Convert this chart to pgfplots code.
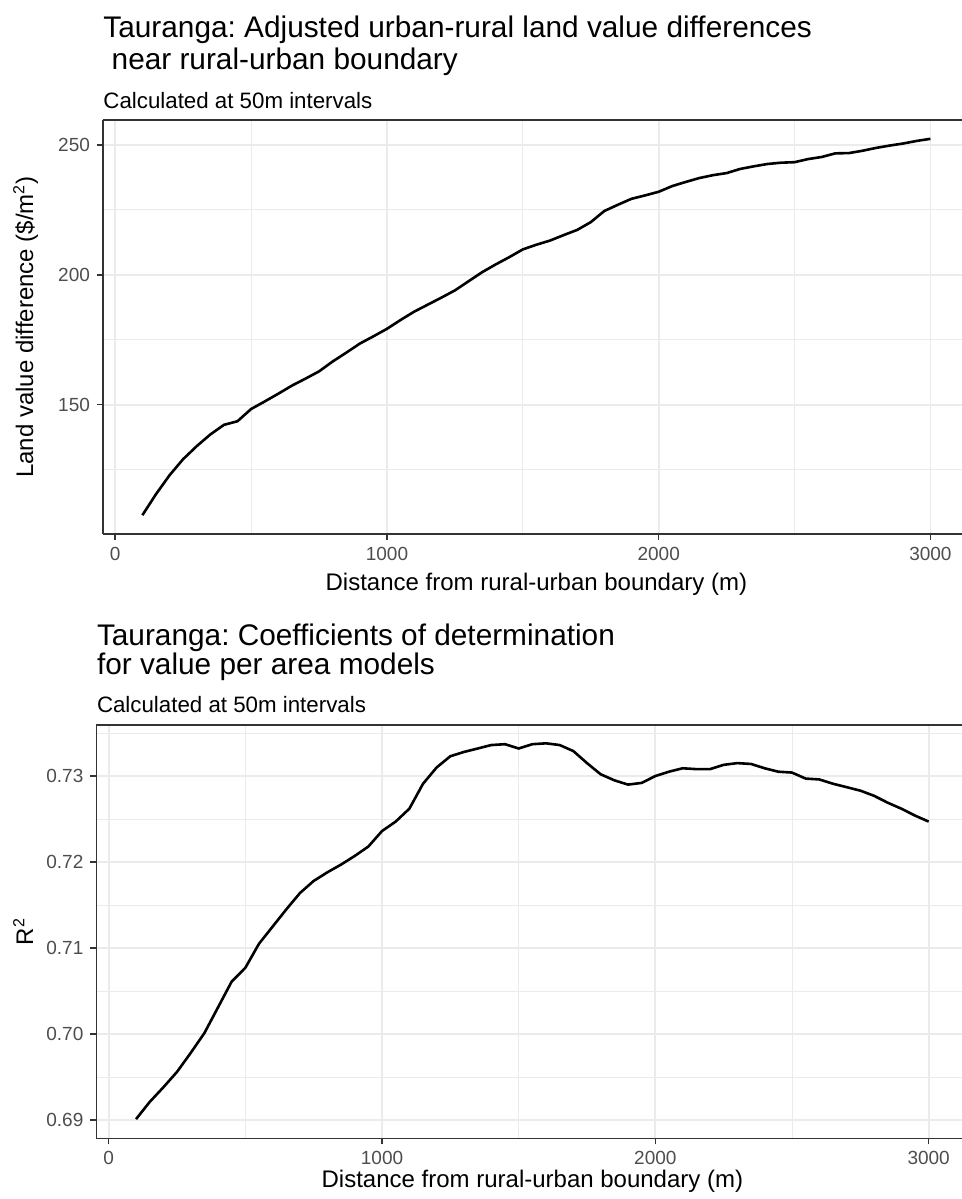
\documentclass[border=0pt]{standalone}
\usepackage{fontspec}
\setmainfont{Liberation Sans}
\usepackage{pgfplots}
\usepackage{pgfplotstable}
\pgfplotsset{compat=1.18}
\frenchspacing

\definecolor{gridgrey}{HTML}{EBEBEB}
\definecolor{grey20}{HTML}{333333}
\definecolor{grey30}{HTML}{4D4D4D}

% land value difference ($/m2) by distance (m)
\pgfplotstableread{
dist diff
100 107.4
150 115.5
200 122.8
250 129.0
300 134.0
350 138.5
400 142.2
450 143.6
500 148.3
550 151.2
600 154.2
650 157.3
700 160.0
750 162.8
800 166.6
850 170.0
900 173.5
950 176.3
1000 179.2
1050 182.6
1100 185.8
1150 188.5
1200 191.2
1250 194.0
1300 197.5
1350 201.0
1400 204.0
1450 206.8
1500 209.8
1550 211.6
1600 213.2
1650 215.3
1700 217.3
1750 220.3
1800 224.6
1850 227.0
1900 229.3
1950 230.6
2000 232.0
2050 234.2
2100 235.8
2150 237.3
2200 238.4
2250 239.2
2300 240.8
2350 241.8
2400 242.7
2450 243.2
2500 243.4
2550 244.6
2600 245.4
2650 246.8
2700 246.9
2750 247.8
2800 248.9
2850 249.8
2900 250.6
2950 251.6
3000 252.4
}\landdiff

% R^2 of value per area models
\pgfplotstableread{
dist rsq
100 0.6901
150 0.6921
200 0.6938
250 0.6956
300 0.6978
350 0.7001
400 0.7031
450 0.7061
500 0.7077
550 0.7105
600 0.7125
650 0.7145
700 0.7164
750 0.7178
800 0.7188
850 0.7197
900 0.7207
950 0.7218
1000 0.7236
1050 0.7247
1100 0.7262
1150 0.7291
1200 0.7310
1250 0.7323
1300 0.7328
1350 0.7332
1400 0.7336
1450 0.7337
1500 0.7332
1550 0.7337
1600 0.7338
1650 0.7336
1700 0.7329
1750 0.7315
1800 0.7302
1850 0.7295
1900 0.7290
1950 0.7292
2000 0.7300
2050 0.7305
2100 0.7309
2150 0.7308
2200 0.7308
2250 0.7313
2300 0.7315
2350 0.7314
2400 0.7309
2450 0.7305
2500 0.7304
2550 0.7297
2600 0.7296
2650 0.7291
2700 0.7287
2750 0.7283
2800 0.7277
2850 0.7269
2900 0.7262
2950 0.7254
3000 0.7247
}\rsquared

% panel cut off at the right edge, so no right-hand border
\pgfplotsset{ggbw/.style={
    scale only axis,
    axis x line*=box,
    axis y line*=left,
    xmin=-45,
    xtick={0,1000,2000,3000},
    xticklabels={0,1000,2000,3000},
    minor xtick={500,1500,2500},
    grid=both,
    major grid style={draw=gridgrey, line width=0.9pt},
    minor grid style={draw=gridgrey, line width=0.45pt},
    axis line style={draw=grey20, line width=0.8pt},
    tick align=outside,
    xtick pos=bottom,
    ytick pos=left,
    major tick length=3pt,
    minor tick length=0pt,
    tick style={draw=grey20, line width=0.8pt},
    tick label style={font=\fontsize{9.5}{11}\selectfont, text=grey30},
}}

\begin{document}
\begin{tikzpicture}
\useasboundingbox (0,0) rectangle (481pt,-599.5pt);
\clip (0,0) rectangle (481pt,-599.5pt);

% top panel
\node[anchor=base west, inner sep=0pt, font=\fontsize{14.9}{17}\selectfont] at (51.5pt,-19pt)
  {Tauranga: Adjusted urban-rural land value differences};
\node[anchor=base west, inner sep=0pt, font=\fontsize{14.9}{17}\selectfont] at (51.5pt,-34.5pt)
  {\ near rural-urban boundary};
\node[anchor=base west, inner sep=0pt, font=\fontsize{11.15}{13}\selectfont] at (51.5pt,-54pt)
  {Calculated at 50m intervals};

\begin{axis}[ggbw,
    at={(51.5pt,-267pt)}, anchor=south west,
    width=429.6pt, height=207pt,
    xmax=3117,
    ymin=100.15, ymax=259.65,
    ytick={150,200,250}, yticklabels={150,200,250},
    minor ytick={125,175,225},
]
\addplot[black, line width=1.3pt] table[x=dist, y=diff] {\landdiff};
\end{axis}

\node[anchor=base, inner sep=0pt, font=\fontsize{12}{14}\selectfont] at (268.2pt,-295pt)
  {Distance from rural-urban boundary (m)};
\node[anchor=base, rotate=90, inner sep=0pt, font=\fontsize{12}{14}\selectfont] at (16.5pt,-163.5pt)
  {Land value difference (\$/m\textsuperscript{2})};

% bottom panel
\node[anchor=base west, inner sep=0pt, font=\fontsize{14.9}{17}\selectfont] at (48.3pt,-322.5pt)
  {Tauranga: Coefficients of determination};
\node[anchor=base west, inner sep=0pt, font=\fontsize{14.9}{17}\selectfont] at (48.3pt,-337pt)
  {for value per area models};
\node[anchor=base west, inner sep=0pt, font=\fontsize{11.15}{13}\selectfont] at (48.3pt,-356pt)
  {Calculated at 50m intervals};

\begin{axis}[ggbw,
    at={(48.2pt,-569.15pt)}, anchor=south west,
    width=432.8pt, height=206.65pt,
    xmax=3122,
    ymin=0.68787, ymax=0.73593,
    ytick={0.69,0.70,0.71,0.72,0.73},
    yticklabels={0.69,0.70,0.71,0.72,0.73},
    minor ytick={0.695,0.705,0.715,0.725,0.735},
]
\addplot[black, line width=1.3pt] table[x=dist, y=rsq] {\rsquared};
\end{axis}

\node[anchor=base, inner sep=0pt, font=\fontsize{12}{14}\selectfont] at (266.2pt,-593.5pt)
  {Distance from rural-urban boundary (m)};
\node[anchor=base, rotate=90, inner sep=0pt, font=\fontsize{12}{14}\selectfont] at (16.5pt,-465.75pt)
  {R\textsuperscript{2}};
\end{tikzpicture}
\end{document}
